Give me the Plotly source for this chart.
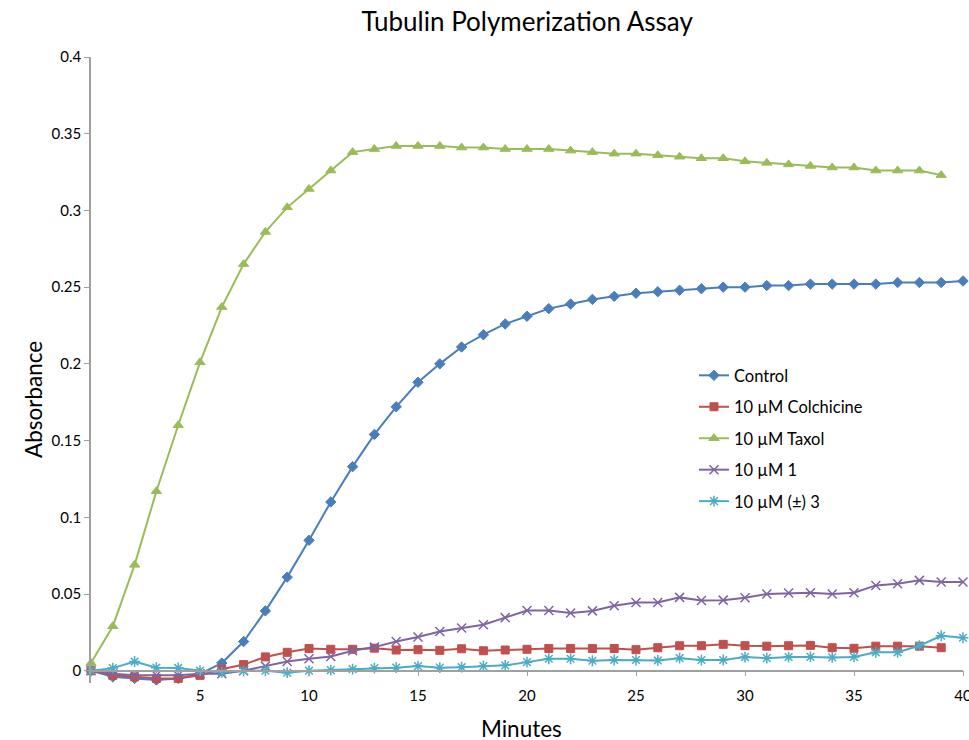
import plotly.graph_objects as go

minutes_41 = list(range(0, 41))
minutes_40 = list(range(0, 40))

control = [0.0, -0.004, -0.005, -0.006, -0.005, -0.002, 0.005, 0.019, 0.039, 0.061,
           0.085, 0.110, 0.133, 0.154, 0.172, 0.188, 0.200, 0.211, 0.219, 0.226,
           0.231, 0.236, 0.239, 0.242, 0.244, 0.246, 0.247, 0.248, 0.249, 0.250,
           0.250, 0.251, 0.251, 0.252, 0.252, 0.252, 0.252, 0.253, 0.253, 0.253, 0.254]

colchicine = [0.0, -0.003, -0.004, -0.005, -0.005, -0.003, 0.001, 0.004, 0.009, 0.012,
              0.0145, 0.014, 0.014, 0.0147, 0.0135, 0.0137, 0.0133, 0.0143, 0.013, 0.0135,
              0.014, 0.0145, 0.0145, 0.0145, 0.0145, 0.0137, 0.015, 0.0163, 0.0163, 0.0172,
              0.0163, 0.016, 0.0163, 0.0165, 0.015, 0.0146, 0.016, 0.016, 0.016, 0.015]

taxol = [0.005, 0.029, 0.069, 0.117, 0.160, 0.201, 0.237, 0.265, 0.286, 0.302,
         0.314, 0.326, 0.338, 0.340, 0.342, 0.342, 0.342, 0.341, 0.341, 0.340,
         0.340, 0.340, 0.339, 0.338, 0.337, 0.337, 0.336, 0.335, 0.334, 0.334,
         0.332, 0.331, 0.330, 0.329, 0.328, 0.328, 0.326, 0.326, 0.326, 0.323]

compound_1 = [0.0, -0.002, -0.003, -0.003, -0.003, -0.002, -0.002, 0.0, 0.003, 0.006,
              0.0078, 0.0093, 0.013, 0.0154, 0.019, 0.022, 0.0256, 0.0278, 0.030, 0.0346,
              0.0393, 0.0393, 0.0376, 0.039, 0.0424, 0.0445, 0.0445, 0.0478, 0.0458, 0.046,
              0.0476, 0.050, 0.0506, 0.0508, 0.050, 0.0508, 0.0556, 0.0567, 0.0589, 0.0578, 0.0578]

compound_3 = [0.0, 0.0017, 0.006, 0.002, 0.0018, 0.0, -0.001, 0.0, 0.0, -0.0013,
              0.0, 0.0004, 0.001, 0.0017, 0.002, 0.003, 0.002, 0.0023, 0.003, 0.0035,
              0.0056, 0.0078, 0.0078, 0.0065, 0.007, 0.007, 0.0067, 0.0082, 0.007, 0.007,
              0.0089, 0.0082, 0.0089, 0.009, 0.0087, 0.009, 0.012, 0.012, 0.0163, 0.0228, 0.0215]

series_names = ["Control", "10 \u00b5M Colchicine", "10 \u00b5M Taxol", "10 \u00b5M 1", "10 \u00b5M (\u00b1) 3"]
x_ticks = [5, 10, 15, 20, 25, 30, 35, 40]
y_ticks = [0, 0.05, 0.1, 0.15, 0.2, 0.25, 0.3, 0.35, 0.4]

FONT = "Lato, Open Sans, sans-serif"
ymin, ymax = -0.008, 0.4

fig = go.Figure()
specs = [
    (minutes_41, control, "#4A7EBB", "diamond", 8, 1),
    (minutes_40, colchicine, "#C0504D", "square", 8, 1),
    (minutes_40, taxol, "#9BBB59", "triangle-up", 9, 1),
    (minutes_41, compound_1, "#8064A2", "x-thin-open", 9, 1.5),
    (minutes_41, compound_3, "#4BACC6", "asterisk-open", 9, 1.5),
]
for i, ((xs, ys, col, sym, sz, lw), name) in enumerate(zip(specs, series_names)):
    fig.add_trace(go.Scatter(
        x=xs, y=ys, name=name, mode="lines+markers", legendgroup=f"g{i}",
        line=dict(color=col, width=2),
        marker=dict(symbol=sym, size=sz, color=col, line=dict(color=col, width=lw)),
        cliponaxis=False,
    ))

fig.update_layout(
    width=969, height=740,
    paper_bgcolor="white", plot_bgcolor="white",
    margin=dict(l=91, r=6, t=57, b=57),
    font=dict(family=FONT, color="#000000", size=15),
    title=dict(text="Tubulin Polymerization Assay", x=0.544, xanchor="center",
               y=0.970, yanchor="middle", font=dict(size=26, family=FONT)),
    showlegend=True,
    legend=dict(x=0.6915, y=0.519, xanchor="left", yanchor="top",
                font=dict(size=16.5, family=FONT), bgcolor="rgba(0,0,0,0)",
                tracegroupgap=7, itemwidth=30),
    xaxis=dict(range=[0, 40], tickvals=x_ticks, showgrid=False, zeroline=False,
               showline=True, linecolor="#A0A0A0", linewidth=1.5,
               ticks="outside", ticklen=5, tickcolor="#A0A0A0",
               anchor="free", position=(-ymin) / (ymax - ymin),
               ticklabeloverflow="allow", automargin=False, ticklabelstandoff=7,
               tickfont=dict(size=15, family=FONT)),
    yaxis=dict(range=[ymin, ymax], tickvals=y_ticks, showgrid=False, zeroline=False,
               showline=True, linecolor="#A0A0A0", linewidth=1.5,
               ticks="outside", ticklen=5, tickcolor="#A0A0A0", automargin=False,
               tickfont=dict(size=15, family=FONT)),
    annotations=[
        dict(text="Absorbance", xref="paper", yref="paper", x=-0.0665, y=0.452,
             xanchor="center", yanchor="middle", textangle=-90, showarrow=False,
             font=dict(size=22.5, family=FONT)),
        dict(text="Minutes", xref="paper", yref="paper", x=0.494, y=-0.0475,
             xanchor="center", yanchor="top", showarrow=False,
             font=dict(size=22.5, family=FONT)),
    ],
)

fig.write_html("out.html", config={"displayModeBar": False},
               post_script="document.body.style.margin='0';document.body.style.padding='0';")
